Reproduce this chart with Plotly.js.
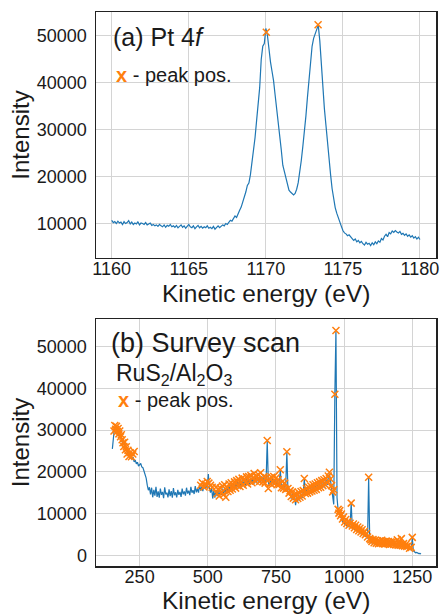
<!DOCTYPE html>
<html>
<head>
<meta charset="utf-8">
<script src="https://cdn.plot.ly/plotly-3.0.1.min.js"></script>
<style>html,body{margin:0;padding:0;background:#fff;}#chart{width:442px;height:614px;}</style>
</head>
<body>
<div id="chart"></div>
<script>
// ---- Panel (a): Pt 4f, kinetic energy 1160..1180 eV, step 0.1 eV ----
const ptStart = 1160.0;
const ptStep = 0.1;
const ptIntensity = [
10800,10300,10500,10100,10600,10200,10400,9900,10500,10100,
10300,10700,10000,10400,9900,10200,10000,10500,9800,10200,
10100,9900,10300,9800,10000,10200,9700,9900,9600,9800,
9500,9900,9600,9400,9800,9300,9700,9500,9900,9400,
9600,9300,9700,9200,9500,9800,9300,9600,9100,9500,
9900,9400,9200,9600,9000,9400,9700,9200,9500,9100,
9400,9200,9600,9100,9300,9000,9500,8900,9300,9600,
9200,9500,9800,9600,10100,9900,10400,10800,10600,11200,
11700,11400,12300,12900,13600,14600,15400,16800,18200,18700,
20500,22800,25500,28400,32000,35500,39000,45000,47800,48400,
51600,50200,47000,44500,42500,40500,37500,34800,32000,28600,
25800,22500,21300,20200,18500,17200,16800,16500,16200,16500,
17400,18800,20800,23500,26500,29500,33000,37000,41000,45000,
47800,49500,50500,51500,52300,49000,43500,38500,34500,31000,
27000,23500,20500,17500,15000,13500,12300,11500,10300,9500,
8600,8100,7900,7500,7700,7200,6900,6500,6800,6200,
6500,6000,6300,5800,5500,6100,5700,5900,5400,6000,
5600,6200,5800,6400,6100,6900,6600,7400,7800,7300,
8200,7900,8500,8200,8600,8300,8100,8400,7800,8000,
7600,7900,7400,7700,7200,7500,7000,7300,6800,7200,
6700
];
const ptPeakE = [1170.03, 1173.39];
const ptPeakI = [50800, 52400];

// ---- Panel (b): survey scan, kinetic energy from 150 eV, step 4 eV ----
const svStart = 150;
const svStep = 4;
const svIntensity = [
25500,29500,30800,29800,30500,29200,28600,29000,27800,27200,
26600,27000,25400,25900,24600,24900,23800,24200,23000,23500,
22400,22800,21900,22300,21400,21700,22000,21200,21000,20200,
19500,18500,16800,15600,16300,14600,16200,13900,15700,14300,
16400,14000,15300,13800,16000,14500,15200,13700,16300,14600,
15000,13900,15800,14200,15400,13800,16100,14400,15100,13900,
15700,14500,15200,14000,16000,14600,15300,14300,16200,14800,
15500,14400,16400,15000,15600,14700,16600,15100,16000,15000,
16900,15500,16400,15400,17200,15900,16700,16200,19500,16000,
15000,16200,13600,15400,13800,15600,14200,15800,14000,15300,
14500,16000,14800,16200,14600,16500,15000,16800,15300,17000,
15500,17200,15800,17400,16000,17600,16200,17800,16300,18000,
16600,18100,16700,18300,16900,18400,17000,18600,17100,18700,
17200,18800,17300,18900,17400,19000,17500,18900,17300,18600,
17000,18300,27400,17500,16600,18200,16800,18300,16900,18200,
16700,17900,16500,17600,20400,16600,16000,17400,15900,17000,
24700,15500,14600,15000,13600,14800,13200,14400,12000,14100,
13000,14500,13400,14800,13700,15000,18300,14300,15600,14400,
15800,14700,16200,14900,16400,15200,16700,15400,16900,15700,
17200,15900,17500,16200,17700,16500,18000,16900,18600,19600,
18000,16300,14600,12200,38600,53900,13800,10800,10400,9200,
8900,8000,8700,7400,8200,7000,7700,6700,7300,12500,
6600,7200,6100,6900,5800,6500,5500,6100,5200,5700,
4800,5300,4400,4900,4000,18600,3600,3500,2900,3500,
2700,3400,2600,3300,2500,3200,2600,3400,2500,3100,
2400,3200,2500,3100,2300,3000,2400,3100,2300,2900,
2200,2900,2100,2800,2100,2700,2000,2600,1900,2400,
1800,2100,1400,1800,1200,4200,1100,800,600,700,
500,400,450,300
];
const svPeakE = [
156,159,162,165,168,171,174,177,180,183,186,189,192,195,198,201,204,207,211,215,220,225,230,
474,480,486,492,498,504,510,516,
530,534,538,542,546,550,554,558,562,566,570,574,578,582,586,590,594,598,602,606,
610,614,618,622,626,630,634,638,642,646,650,654,658,662,666,670,674,678,682,686,
690,694,698,702,706,710,714,718,722,726,730,734,738,742,746,750,754,758,762,766,
770,774,778,782,786,790,794,798,802,806,810,814,818,822,826,830,834,838,842,846,
850,854,858,862,866,870,874,878,882,886,890,894,898,902,906,910,914,918,922,926,
930,934,938,942,946,950,954,958,962,
966,970,
978,981,984,987,990,994,998,1002,1006,1010,1014,1018,1022,1026,1030,1034,1038,1042,
1046,1050,1054,1058,1062,1066,1070,1074,1078,1082,1086,1090,1094,1098,1102,1106,
1110,1114,1118,1122,1126,1130,1134,1138,1142,1146,1150,1154,1158,1162,1166,1170,
1174,1178,1182,1186,1190,1195,1198,1202,1206,1210,1214,1218,1222,1226,1230,1236,
1240,1246,1250
];
const svPeakI = [
29800,31100,30200,30900,29700,30400,29100,29800,28400,28900,27700,27000,26100,27100,25300,26000,24300,25200,23700,24600,23600,24300,24900,
16800,17400,16400,17000,17700,17300,16800,16300,
16300,14800,15900,14200,16100,15000,16600,14600,16900,13900,16200,15300,17100,15600,17400,15900,16600,17600,16100,17900,
16700,18200,16500,17400,18500,16800,18300,17500,18800,17100,18900,17800,19100,17400,18600,19600,17800,19000,18200,19300,
17700,19800,18400,17600,18900,17300,18600,27500,16000,18400,17200,18700,17500,18900,17300,18500,16900,18100,17000,20500,
16200,17700,16100,17300,15800,24800,16000,14900,15500,14100,15200,13700,14600,13300,14700,13600,15000,13900,15300,14200,
15500,18400,14800,16000,14900,16300,15200,16600,15400,16900,15600,17100,15800,17400,16200,17600,16300,17900,16700,18100,
17000,18400,17400,19000,19900,18300,16700,15200,15700,
38600,53900,
11000,10100,10700,9500,9900,8700,9200,8000,8600,7600,8100,7200,7700,12500,7000,7500,6600,7200,
6200,6800,5900,6500,5600,6100,5200,5700,4900,5200,4400,18700,4000,3700,3300,3800,
3000,3600,2900,3500,2800,3400,2900,3600,2800,3300,2700,3400,2800,3300,2600,3200,
2700,3300,2600,3100,2500,3700,2400,3000,2400,4000,2300,2800,2200,2600,2100,2300,
1700,1900,4300
];

// ---- styling ----
const FONT = 'Liberation Sans, Arial, Helvetica, sans-serif';
const TXT = '#1a1a1a';
const BLUE = '#1f77b4';
const ORANGE = '#ff7f0e';

const traces = [
  {type:'scatter', mode:'lines', x0:ptStart, dx:ptStep, y:ptIntensity,
   line:{color:BLUE, width:1.2}, xaxis:'x', yaxis:'y', hoverinfo:'skip'},
  {type:'scatter', mode:'markers', x:ptPeakE, y:ptPeakI,
   marker:{symbol:'x-thin-open', size:7, color:ORANGE, line:{color:ORANGE, width:1.5}},
   xaxis:'x', yaxis:'y', hoverinfo:'skip'},
  {type:'scatter', mode:'lines', x0:svStart, dx:svStep, y:svIntensity,
   line:{color:BLUE, width:1.2}, xaxis:'x2', yaxis:'y2', hoverinfo:'skip'},
  {type:'scatter', mode:'markers', x:svPeakE, y:svPeakI,
   marker:{symbol:'x-thin-open', size:7, color:ORANGE, line:{color:ORANGE, width:1.5}},
   xaxis:'x2', yaxis:'y2', hoverinfo:'skip'}
];

const axisCommon = {
  showgrid:true, gridcolor:'#d4d4d4', gridwidth:1,
  showline:true, mirror:true, linecolor:'#222', linewidth:1.5,
  ticks:'', zeroline:false, tickformat:'d',
  tickfont:{family:FONT, size:18, color:TXT}
};

const layout = {
  width:442, height:614,
  margin:{l:96, r:6, t:12, b:48},
  paper_bgcolor:'#fff', plot_bgcolor:'#fff',
  showlegend:false,
  font:{family:FONT, color:TXT},
  xaxis: Object.assign({}, axisCommon, {
    domain:[0,1], anchor:'y', range:[1158.98, 1181.04],
    tickvals:[1160,1165,1170,1175,1180], ticklabelstandoff:-6
  }),
  yaxis: Object.assign({}, axisCommon, {
    domain:[0.556,1], anchor:'x', range:[2770, 55100],
    tickvals:[10000,20000,30000,40000,50000], ticklabelstandoff:4,
    title:{text:'Intensity', font:{family:FONT, size:24, color:TXT}, standoff:0}
  }),
  xaxis2: Object.assign({}, axisCommon, {
    domain:[0,1], anchor:'y2', range:[90, 1337],
    tickvals:[250,500,750,1000,1250], ticklabelstandoff:-6
  }),
  yaxis2: Object.assign({}, axisCommon, {
    domain:[0,0.4458], anchor:'x2', range:[-2570, 56640],
    tickvals:[0,10000,20000,30000,40000,50000], ticklabelstandoff:4,
    title:{text:'Intensity', font:{family:FONT, size:24, color:TXT}, standoff:0}
  }),
  annotations:[
    {xref:'paper', yref:'paper', x:0.5, y:0.492, xanchor:'center', yanchor:'middle', showarrow:false,
     text:'Kinetic energy (eV)', font:{family:FONT, size:24.5, color:TXT}},
    {xref:'paper', yref:'paper', x:0.5, y:-0.0625, xanchor:'center', yanchor:'middle', showarrow:false,
     text:'Kinetic energy (eV)', font:{family:FONT, size:24.5, color:TXT}},
    {xref:'paper', yref:'paper', x:0.043, y:0.955, xanchor:'left', yanchor:'middle', showarrow:false,
     text:'(a) Pt 4<i>f</i>', font:{family:FONT, size:25, color:TXT}},
    {xref:'paper', yref:'paper', x:0.052, y:0.886, xanchor:'left', yanchor:'middle', showarrow:false,
     text:'<b><span style="color:#ff7f0e">x</span></b> - peak pos.', font:{family:FONT, size:20, color:TXT}},
    {xref:'paper', yref:'paper', x:0.038, y:0.4034, xanchor:'left', yanchor:'middle', showarrow:false,
     text:'(b) Survey scan', font:{family:FONT, size:27, color:TXT}},
    {xref:'paper', yref:'paper', x:0.052, y:0.346, xanchor:'left', yanchor:'middle', showarrow:false,
     text:'RuS<sub>2</sub>/Al<sub>2</sub>O<sub>3</sub>', font:{family:FONT, size:23, color:TXT}},
    {xref:'paper', yref:'paper', x:0.060, y:0.2996, xanchor:'left', yanchor:'middle', showarrow:false,
     text:'<b><span style="color:#ff7f0e">x</span></b> - peak pos.', font:{family:FONT, size:20, color:TXT}}
  ]
};

Plotly.newPlot('chart', traces, layout, {staticPlot:true, displayModeBar:false});
</script>
</body>
</html>
